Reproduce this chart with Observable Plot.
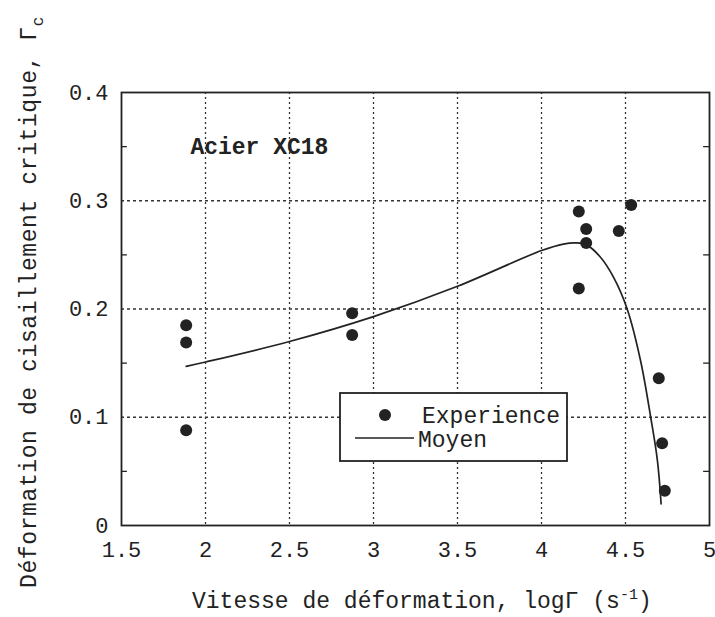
<!DOCTYPE html>
<html>
<head>
<meta charset="utf-8">
<script src="https://cdn.jsdelivr.net/npm/d3@7"></script>
<script src="https://cdn.jsdelivr.net/npm/@observablehq/plot@0.6"></script>
<style>
  html, body { margin: 0; padding: 0; background: #fff; }
  #wrap { position: relative; width: 715px; height: 617px; }
</style>
</head>
<body>
<div id="wrap"></div>
<script>
// ---- data ----
const xTicks = [1.5, 2, 2.5, 3, 3.5, 4, 4.5, 5];
const yTicks = [0, 0.1, 0.2, 0.3, 0.4];
const yMinorTicks = [0.05, 0.15, 0.25, 0.35];

// Experience (measured points)
const expX = [1.885, 1.885, 1.885, 2.873, 2.873, 4.222, 4.266, 4.266, 4.222, 4.460, 4.534, 4.698, 4.718, 4.734];
const expY = [0.185, 0.169, 0.088, 0.196, 0.176, 0.290, 0.274, 0.261, 0.219, 0.272, 0.296, 0.136, 0.076, 0.032];

// Moyen (mean curve)
const moyenX = [1.885, 2.0, 2.5, 3.0, 3.5, 4.0, 4.13, 4.21, 4.27, 4.35, 4.43, 4.51, 4.59, 4.65, 4.69, 4.712];
const moyenY = [0.147, 0.151, 0.170, 0.193, 0.221, 0.254, 0.260, 0.261, 0.259, 0.248, 0.229, 0.200, 0.152, 0.100, 0.060, 0.020];

const labelText = ["Acier XC18"];
const labelX = [1.91];
const labelY = [0.35];

const legendLabels = ["Experience", "Moyen"];

const experience = expX.map((x, i) => ({x, y: expY[i]}));
const moyen = moyenX.map((x, i) => ({x, y: moyenY[i]}));
const labels = labelText.map((t, i) => ({text: t, x: labelX[i], y: labelY[i]}));

const font = "'Liberation Mono', 'DejaVu Sans Mono', monospace";
const ink = "#222";

const chart = Plot.plot({
  width: 715,
  height: 617,
  marginLeft: 121,
  marginRight: 6,
  marginTop: 92,
  marginBottom: 92,
  style: {fontFamily: font, fontSize: "22px", color: ink, background: "#fff"},
  x: {domain: [1.5, 5], label: null},
  y: {domain: [0, 0.4], label: null},
  marks: [
    Plot.gridX(xTicks.slice(1, -1), {stroke: "#333", strokeOpacity: 1, strokeWidth: 1.3, strokeDasharray: "2,3"}),
    Plot.gridY(yTicks.slice(1, -1), {stroke: "#333", strokeOpacity: 1, strokeWidth: 1.3, strokeDasharray: "3,3"}),
    Plot.ruleY(yMinorTicks, {x1: 1.5, x2: 1.535, stroke: ink, strokeWidth: 1.3}),
    Plot.ruleY(yMinorTicks, {x1: 4.965, x2: 5, stroke: ink, strokeWidth: 1.3}),
    Plot.frame({stroke: ink, strokeWidth: 1.8}),
    Plot.axisX(xTicks, {tickSize: 0, tickPadding: 16, tickFormat: d => String(d), fontSize: 22, label: null}),
    Plot.axisY(yTicks, {tickSize: 0, tickPadding: 13, tickFormat: d => String(d), fontSize: 22, label: null}),
    Plot.line(moyen, {x: "x", y: "y", stroke: ink, strokeWidth: 1.7, curve: "catmull-rom"}),
    Plot.dot(experience, {x: "x", y: "y", r: 6, fill: ink, stroke: "none"}),
    Plot.text(labels, {x: "x", y: "y", text: "text", textAnchor: "start", fontWeight: "bold", fontSize: 23, fill: ink})
  ]
});

document.getElementById("wrap").appendChild(chart);

const svg = d3.select(chart);

// axis titles with sub/superscripts
const xt = svg.append("text")
  .attr("x", 192).attr("y", 608)
  .attr("text-anchor", "start")
  .attr("font-family", font).attr("font-size", 23).attr("fill", ink);
xt.append("tspan").text("Vitesse de déformation, logΓ (s");
xt.append("tspan").attr("dy", -9).attr("font-size", 15).text("-1");
xt.append("tspan").attr("dy", 9).text(")");

const yt = svg.append("text")
  .attr("transform", "translate(36,302) rotate(-90)")
  .attr("text-anchor", "middle")
  .attr("font-family", font).attr("font-size", 23).attr("letter-spacing", 0.6).attr("fill", ink);
yt.append("tspan").text("Déformation de cisaillement critique, Γ");
yt.append("tspan").attr("dy", 7).attr("font-size", 16).text("c");

// legend box
const lg = svg.append("g").attr("transform", "translate(340,393)")
  .attr("font-family", font).attr("font-size", 23).attr("fill", ink)
  .attr("text-anchor", "start");
lg.append("rect").attr("x", 0).attr("y", 0).attr("width", 227).attr("height", 68)
  .attr("fill", "#fff").attr("stroke", ink).attr("stroke-width", 1.8);
lg.append("circle").attr("cx", 45).attr("cy", 22).attr("r", 6).attr("fill", ink);
lg.append("text").attr("text-anchor", "start").attr("x", 82).attr("y", 30).text(legendLabels[0]);
lg.append("line").attr("x1", 15).attr("x2", 74).attr("y1", 45).attr("y2", 45)
  .attr("stroke", ink).attr("stroke-width", 1.7);
lg.append("text").attr("text-anchor", "start").attr("x", 78).attr("y", 54).text(legendLabels[1]);
</script>
</body>
</html>
